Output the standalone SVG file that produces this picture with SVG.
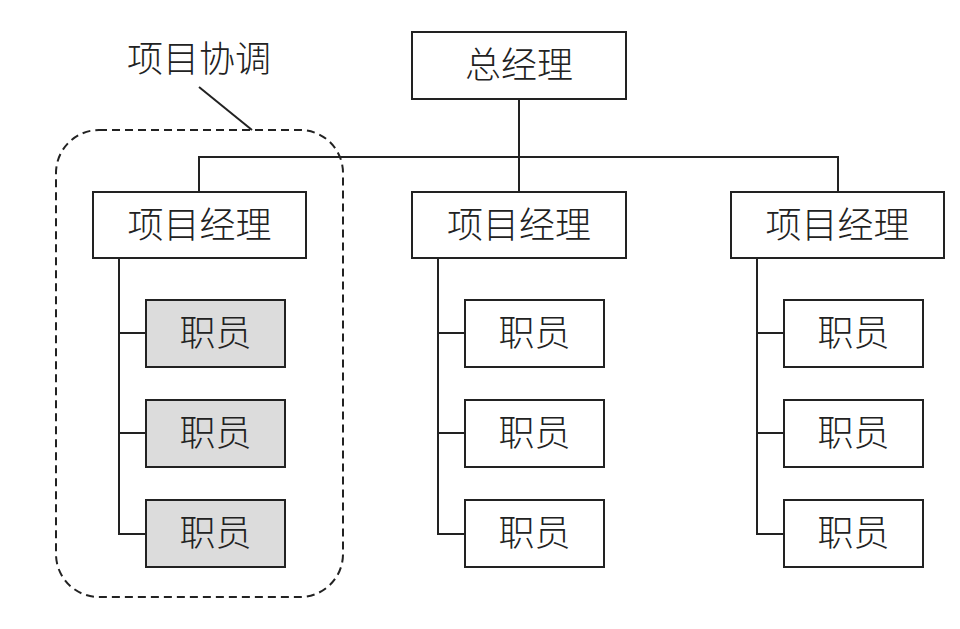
<svg xmlns="http://www.w3.org/2000/svg" width="960" height="629" viewBox="0 0 960 629">
<style>
  .box{fill:#ffffff;stroke:#222;stroke-width:2}
  .emp{fill:#ffffff;stroke:#222;stroke-width:2}
  .hl{fill:#dcdcdc}
  .t{font-family:"Noto Sans CJK SC","Noto Sans",sans-serif;font-size:36px;font-weight:300;fill:#222;text-anchor:middle}
  .c{fill:none;stroke:#222;stroke-width:2}
  .dash{fill:none;stroke:#222;stroke-width:2;stroke-dasharray:8 5}
</style>
<rect width="960" height="629" fill="#fff"/>
<g id="connectors">
  <line class="c" x1="519" y1="99" x2="519" y2="192"/>
  <polyline class="c" points="199,192 199,157 838,157 838,192"/>
  <polyline class="c" points="119,258 119,534 146,534"/>
  <line class="c" x1="119" y1="333" x2="146" y2="333"/>
  <line class="c" x1="119" y1="433" x2="146" y2="433"/>
  <polyline class="c" points="438,258 438,534 465,534"/>
  <line class="c" x1="438" y1="333" x2="465" y2="333"/>
  <line class="c" x1="438" y1="433" x2="465" y2="433"/>
  <polyline class="c" points="757,258 757,534 784,534"/>
  <line class="c" x1="757" y1="333" x2="784" y2="333"/>
  <line class="c" x1="757" y1="433" x2="784" y2="433"/>
  <line class="c" x1="199" y1="87" x2="252" y2="130"/>
</g>
<g id="coordination">
  <rect class="dash" x="56" y="130" width="287" height="467" rx="43" ry="43"/>
  <text class="t" x="199" y="72">项目协调</text>
</g>
<g id="gm">
  <rect class="box" x="412" y="32" width="214" height="67"/>
  <text class="t" x="519" y="78">总经理</text>
</g>
<g id="pm1">
  <rect class="box" x="93" y="192" width="213" height="66"/>
  <text class="t" x="199.5" y="238">项目经理</text>
</g>
<g id="pm2">
  <rect class="box" x="412" y="192" width="214" height="66"/>
  <text class="t" x="519" y="238">项目经理</text>
</g>
<g id="pm3">
  <rect class="box" x="731" y="192" width="213" height="66"/>
  <text class="t" x="837.5" y="238">项目经理</text>
</g>
<g id="e11"><rect class="emp hl" x="146" y="300" width="139" height="67"/><text class="t" x="215.5" y="346">职员</text></g>
<g id="e12"><rect class="emp hl" x="146" y="400" width="139" height="67"/><text class="t" x="215.5" y="446">职员</text></g>
<g id="e13"><rect class="emp hl" x="146" y="500" width="139" height="67"/><text class="t" x="215.5" y="546">职员</text></g>
<g id="e21"><rect class="emp" x="465" y="300" width="139" height="67"/><text class="t" x="534.5" y="346">职员</text></g>
<g id="e22"><rect class="emp" x="465" y="400" width="139" height="67"/><text class="t" x="534.5" y="446">职员</text></g>
<g id="e23"><rect class="emp" x="465" y="500" width="139" height="67"/><text class="t" x="534.5" y="546">职员</text></g>
<g id="e31"><rect class="emp" x="784" y="300" width="139" height="67"/><text class="t" x="853.5" y="346">职员</text></g>
<g id="e32"><rect class="emp" x="784" y="400" width="139" height="67"/><text class="t" x="853.5" y="446">职员</text></g>
<g id="e33"><rect class="emp" x="784" y="500" width="139" height="67"/><text class="t" x="853.5" y="546">职员</text></g>
</svg>
